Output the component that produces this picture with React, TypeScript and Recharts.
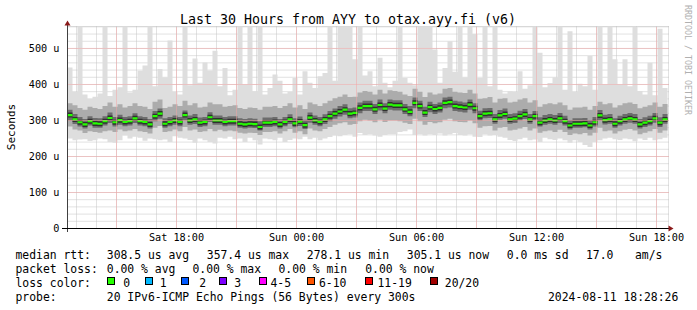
import React from 'react'
import { ComposedChart, Area, XAxis, YAxis, CartesianGrid, ReferenceLine } from 'recharts'

// time is in hours since Sat 12:00, one sample every 15 minutes
const START_HOUR = 0.55
const STEP_HOURS = 0.25

// median rtt (us)
const median = [
  315, 303, 295, 289, 298, 292, 291, 298, 307, 295,
  301, 296, 298, 306, 298, 296, 289, 312, 319, 291,
  296, 300, 296, 315, 300, 303, 294, 296, 309, 300,
  300, 296, 298, 298, 291, 289, 291, 290, 282, 294,
  294, 296, 289, 296, 303, 292, 297, 287, 308, 300,
  296, 303, 312, 319, 325, 330, 319, 321, 335, 340,
  340, 331, 343, 333, 344, 342, 342, 331, 324, 349,
  340, 322, 337, 332, 335, 349, 351, 340, 338, 336,
  344, 334, 312, 319, 320, 303, 314, 318, 303, 305,
  312, 317, 303, 312, 294, 300, 303, 300, 306, 298,
  286, 291, 291, 292, 286, 295, 314, 301, 303, 291,
  298, 303, 306, 303, 289, 294, 298, 306, 294, 303,
]

// fastest / slowest of the 20 pings
const minRtt = [
  250, 245, 247, 248, 243, 245, 250, 248, 240, 238,
  245, 258, 250, 255, 252, 244, 250, 248, 245, 247,
  240, 256, 252, 250, 246, 238, 250, 245, 240, 236,
  252, 250, 255, 248, 250, 240, 252, 245, 233, 250,
  248, 245, 252, 240, 246, 250, 248, 255, 248, 252,
  245, 250, 254, 258, 256, 260, 262, 255, 265, 260,
  262, 258, 255, 260, 262, 262, 268, 270, 275, 260,
  262, 258, 262, 260, 264, 258, 262, 265, 260, 258,
  262, 255, 254, 262, 258, 260, 255, 252, 246, 243,
  248, 252, 245, 247, 240, 252, 248, 246, 250, 245,
  238, 245, 240, 232, 226, 240, 245, 250, 252, 248,
  246, 250, 248, 242, 250, 246, 252, 245, 248, 252,
]
const maxRtt = [
  447, 380, 560, 372, 360, 366, 375, 560, 368, 385,
  392, 560, 378, 385, 438, 453, 560, 395, 443, 420,
  522, 380, 372, 560, 398, 472, 405, 461, 439, 494,
  395, 446, 370, 385, 560, 400, 560, 381, 560, 372,
  390, 428, 410, 375, 380, 418, 372, 437, 405, 390,
  423, 432, 560, 410, 560, 560, 560, 470, 560, 425,
  437, 395, 474, 405, 392, 410, 560, 418, 405, 398,
  560, 560, 560, 497, 405, 446, 520, 435, 560, 420,
  560, 540, 418, 560, 395, 560, 385, 375, 381, 380,
  437, 388, 398, 560, 488, 392, 404, 420, 560, 385,
  548, 380, 402, 395, 479, 385, 560, 400, 560, 470,
  400, 470, 395, 560, 382, 372, 460, 370, 555, 390,
]

// middle smoke band
const lowBand = [
  283, 275, 272, 265, 270, 268, 266, 270, 272, 268,
  275, 270, 272, 276, 270, 268, 264, 280, 285, 268,
  270, 275, 270, 282, 272, 275, 268, 270, 276, 270,
  274, 270, 272, 270, 266, 264, 266, 265, 260, 268,
  268, 270, 264, 270, 276, 266, 270, 262, 278, 272,
  270, 276, 282, 288, 292, 295, 288, 290, 298, 302,
  300, 295, 302, 296, 300, 300, 298, 294, 290, 305,
  298, 288, 296, 292, 295, 302, 305, 298, 296, 295,
  300, 292, 280, 284, 285, 272, 280, 282, 272, 274,
  278, 282, 272, 278, 266, 270, 272, 268, 274, 268,
  260, 264, 262, 265, 258, 266, 280, 270, 272, 264,
  270, 274, 276, 272, 262, 266, 270, 276, 266, 272,
]
const highBand = [
  348, 342, 335, 330, 338, 335, 332, 340, 350, 338,
  345, 336, 340, 348, 340, 338, 332, 352, 358, 335,
  338, 345, 340, 355, 342, 348, 336, 338, 350, 345,
  345, 338, 340, 342, 335, 332, 336, 335, 330, 338,
  338, 340, 335, 340, 348, 336, 342, 332, 350, 345,
  340, 348, 355, 362, 366, 372, 365, 366, 378, 382,
  380, 372, 385, 375, 384, 382, 380, 372, 368, 388,
  380, 365, 378, 372, 375, 388, 390, 380, 378, 376,
  385, 375, 360, 362, 365, 350, 360, 362, 350, 352,
  358, 362, 350, 356, 338, 345, 348, 345, 350, 342,
  330, 336, 336, 338, 330, 340, 352, 345, 348, 336,
  342, 348, 350, 346, 334, 338, 342, 350, 338, 346,
]

// dark core around the median
const coreLow = [
  300, 290, 283, 278, 286, 280, 280, 286, 293, 283,
  288, 284, 286, 293, 286, 284, 278, 298, 305, 280,
  284, 288, 284, 300, 288, 290, 282, 284, 296, 288,
  288, 284, 286, 286, 280, 278, 280, 279, 272, 282,
  282, 284, 278, 284, 290, 281, 285, 276, 294, 288,
  284, 290, 298, 305, 311, 316, 306, 308, 320, 326,
  326, 318, 328, 320, 330, 328, 328, 318, 312, 334,
  326, 310, 323, 318, 322, 334, 336, 326, 324, 322,
  330, 320, 300, 306, 307, 291, 302, 305, 291, 293,
  300, 304, 291, 300, 283, 288, 291, 288, 293, 286,
  275, 280, 280, 281, 275, 283, 300, 289, 291, 280,
  286, 291, 294, 291, 278, 282, 286, 294, 282, 291,
]
const coreHigh = [
  330, 318, 310, 304, 312, 307, 306, 312, 322, 310,
  316, 310, 312, 320, 312, 310, 304, 326, 333, 306,
  310, 314, 310, 328, 314, 318, 308, 310, 323, 314,
  314, 310, 312, 312, 306, 304, 306, 305, 298, 308,
  308, 310, 304, 310, 317, 306, 311, 302, 322, 314,
  310, 317, 326, 333, 340, 345, 334, 336, 350, 355,
  355, 346, 358, 348, 358, 356, 356, 346, 340, 364,
  355, 338, 352, 346, 350, 364, 366, 355, 353, 350,
  358, 348, 327, 334, 335, 318, 329, 333, 318, 320,
  327, 332, 318, 326, 309, 315, 318, 315, 321, 313,
  301, 306, 306, 307, 301, 310, 329, 316, 318, 306,
  313, 318, 321, 318, 304, 309, 313, 321, 309, 318,
]

const hourTicks = [1, 2, 3, 4, 5, 6, 7, 8, 9, 10, 11, 12, 13, 14, 15, 16, 17, 18, 19, 20, 21, 22, 23, 24, 25, 26, 27, 28, 29, 30]
const majorHours = [3, 6, 9, 12, 15, 18, 21, 24, 27, 30]
const xLabels: Record<number, string> = { 6: 'Sat 18:00', 12: 'Sun 00:00', 18: 'Sun 06:00', 24: 'Sun 12:00', 30: 'Sun 18:00' }
const yTicks = [0, 20, 40, 60, 80, 100, 120, 140, 160, 180, 200, 220, 240, 260, 280, 300, 320, 340, 360, 380, 400, 420, 440, 460, 480, 500, 520, 540, 560]
const yMajor = [100, 200, 300, 400, 500]

const statsRtt = ['median rtt:', '308.5 us avg', '357.4 us max', '278.1 us min', '305.1 us now', '0.0 ms sd', '17.0', 'am/s']
const statsLoss = ['packet loss:', '0.00 % avg', '0.00 % max', '0.00 % min', '0.00 % now']
const lossLabels = ['0', '1', '2', '3', '4-5', '6-10', '11-19', '20/20']
const lossColors = ['#26ff00', '#00b8ff', '#0059ff', '#7e00ff', '#ff00ff', '#ff5500', '#ff0000', '#a10000']

const rows = median.map((m, i) => ({
  t: START_HOUR + i * STEP_HOURS,
  outer: [minRtt[i], maxRtt[i]],
  mid: [lowBand[i], highBand[i]],
  core: [coreLow[i], coreHigh[i]],
  med: m,
}))
rows.push({ ...rows[rows.length - 1], t: START_HOUR + median.length * STEP_HOURS })

const MONO = '"DejaVu Sans Mono", monospace'

type Row = { med: number }

const App = () => {
  const rttX = [15.5, 106.8, 206.8, 306.8, 406.8, 506.8, 586, 635]
  const lossX = [15.5, 106.8, 192.5, 278.5, 365.2]
  const boxX = [107.5, 145.5, 181.5, 219.5, 259.5, 307.5, 365.5, 430.5]
  const boxLabelX = [123.3, 159.7, 199.3, 234.3, 270.5, 319, 377.5, 444.8]
  return (
    <div style={{ position: 'relative', width: 697, height: 310, background: '#fff' }}>
      <style>{'body{margin:0}'}</style>
      <ComposedChart width={697} height={310} data={rows} margin={{ top: 26.5, right: 28.5, bottom: 51.5, left: 0 }}>
        <CartesianGrid stroke="#c4c4c4" strokeDasharray="1 1" />
        <XAxis
          dataKey="t"
          type="number"
          domain={[0.55, 30.6]}
          ticks={hourTicks}
          interval={0}
          tickFormatter={(h: number) => xLabels[h] ?? ''}
          axisLine={false}
          tickLine={false}
          tickSize={3}
          tickMargin={2.5}
          height={30}
          tick={{ fontSize: 10.2, fontFamily: MONO, fill: '#000' }}
        />
        <YAxis
          type="number"
          domain={[0, 561]}
          ticks={yTicks}
          interval={0}
          tickFormatter={(v: number) => (v === 0 ? '0' : v % 100 === 0 ? `${v} u` : '')}
          axisLine={false}
          tickLine={false}
          tickSize={4}
          tickMargin={4}
          width={67.5}
          tick={{ fontSize: 10.2, fontFamily: MONO, fill: '#000' }}
        />
        <Area type="stepAfter" dataKey="outer" stroke="none" fill="#dedede" fillOpacity={1} isAnimationActive={false} dot={false} activeDot={false} />
        <Area type="stepAfter" dataKey="mid" stroke="none" fill="#acacac" fillOpacity={1} isAnimationActive={false} dot={false} activeDot={false} />
        <Area type="stepAfter" dataKey="core" stroke="none" fill="#6c6c6c" fillOpacity={1} isAnimationActive={false} dot={false} activeDot={false} />
        <Area
          type="stepAfter"
          dataKey={(d: Row) => [d.med - 7, d.med + 7]}
          stroke="none"
          fill="#303030"
          fillOpacity={1}
          isAnimationActive={false}
          dot={false}
          activeDot={false}
        />
        <Area
          type="stepAfter"
          dataKey={(d: Row) => [d.med - 3, d.med + 3]}
          stroke="none"
          fill="#26ff00"
          fillOpacity={1}
          isAnimationActive={false}
          dot={false}
          activeDot={false}
        />
        {majorHours.map((h) => (
          <ReferenceLine key={`x${h}`} x={h} stroke="#f4a4a4" strokeDasharray="1 1" />
        ))}
        {yMajor.map((v) => (
          <ReferenceLine key={`y${v}`} y={v} stroke="#f4a4a4" strokeDasharray="1 1" />
        ))}
      </ComposedChart>
      <svg width={697} height={310} style={{ position: 'absolute', left: 0, top: 0, pointerEvents: 'none' }} fontFamily={MONO}>
        <text x={348} y={24} textAnchor="middle" fontSize={13.3} fill="#000">Last 30 Hours from AYY to otax.ayy.fi (v6)</text>
        <text transform="translate(15,127) rotate(-90)" textAnchor="middle" fontSize={11} fill="#000">Seconds</text>
        <text transform="translate(684.5,5) rotate(90)" fontSize={8.3} fill="#b0b0b0">RRDTOOL / TOBI OETIKER</text>
        <line x1={67.5} y1={232} x2={67.5} y2={24} stroke="#404040" />
        <line x1={62} y1={228.5} x2={670} y2={228.5} stroke="#000" />
        <polygon points="64.5,25.5 70.5,25.5 67.5,20.5" fill="#8b1a1a" />
        <polygon points="668.5,225.5 668.5,231.5 673.5,228.5" fill="#8b1a1a" />
        {statsRtt.map((s, i) => (
          <text key={`r${i}`} x={rttX[i]} y={259} fontSize={11.4} fill="#000">{s}</text>
        ))}
        {statsLoss.map((s, i) => (
          <text key={`l${i}`} x={lossX[i]} y={273} fontSize={11.4} fill="#000">{s}</text>
        ))}
        <text x={15.5} y={287} fontSize={11.4} fill="#000">loss color:</text>
        {lossLabels.map((s, i) => (
          <g key={`c${i}`}>
            <rect x={boxX[i]} y={277.5} width={7} height={7} fill={lossColors[i]} stroke="#000" />
            <text x={boxLabelX[i]} y={287} fontSize={11.4} fill="#000">{s}</text>
          </g>
        ))}
        <text x={15.5} y={301} fontSize={11.4} fill="#000">probe:</text>
        <text x={106.8} y={301} fontSize={11.4} fill="#000">20 IPv6-ICMP Echo Pings (56 Bytes) every 300s</text>
        <text x={548} y={301} fontSize={11.4} fill="#000">2024-08-11 18:28:26</text>
      </svg>
    </div>
  )
}

export default App
